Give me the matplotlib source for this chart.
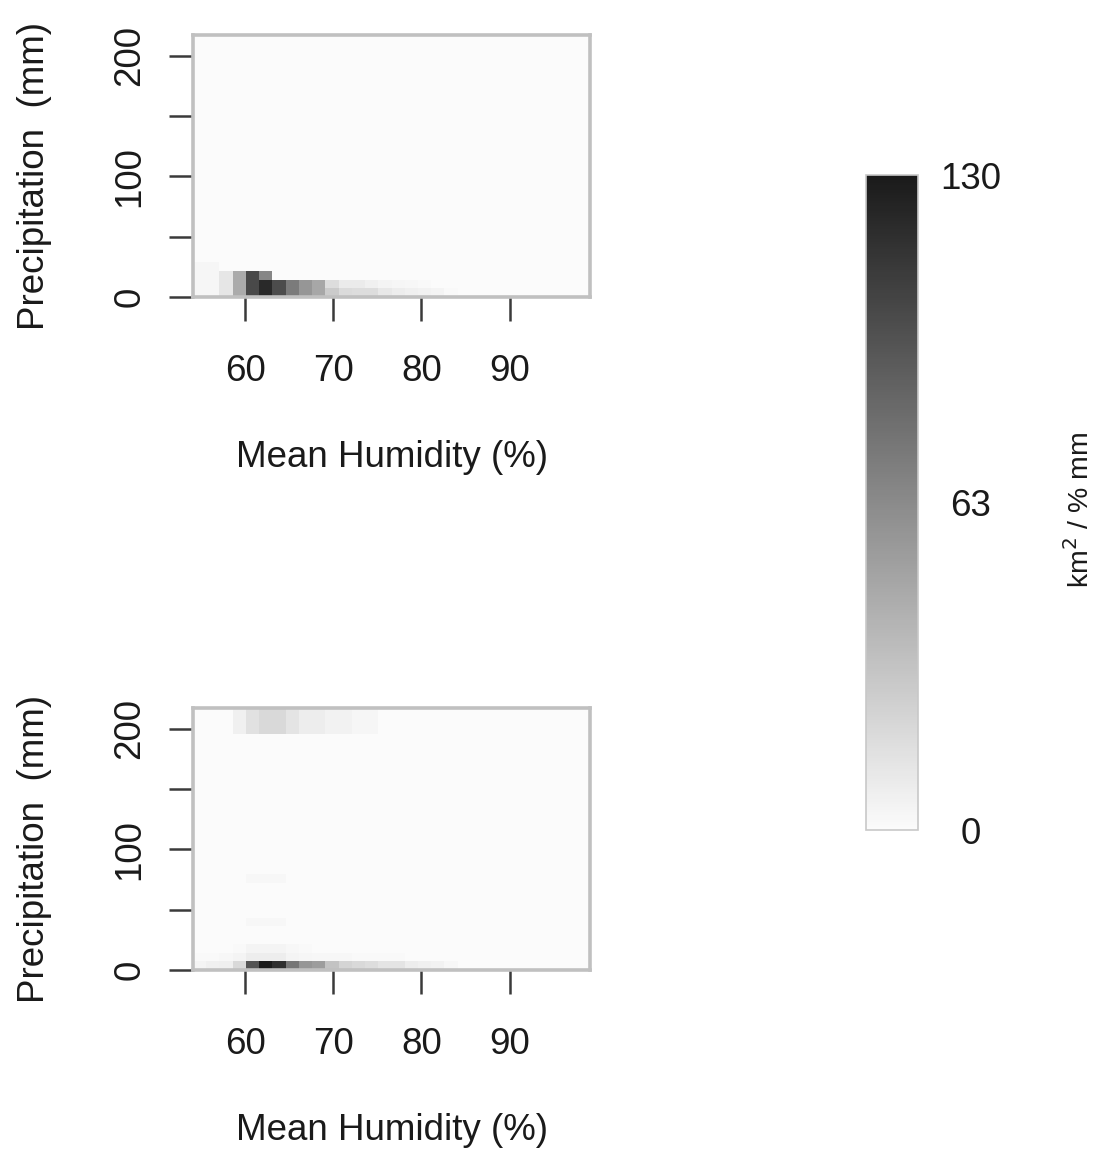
import numpy as np
import matplotlib
matplotlib.use("Agg")
import matplotlib.pyplot as plt
from matplotlib.colors import LinearSegmentedColormap

# ---------- DATA ----------
# 30 x 30 density grid: humidity bins (1.5 %) x precipitation bins (~7.2 mm)
N_HUM = 30
N_PRE = 30
HUM_MIN, HUM_MAX = 54.1, 99.1
PRE_MIN, PRE_MAX = 0.0, 217.0

HUM_TICKS = [60, 70, 80, 90]
PRE_TICKS = [0, 50, 100, 150, 200]
PRE_TICK_LABELS = ["0", "", "100", "", "200"]

VMAX = 126.5
CBAR_LABELS = ["0", "63", "130"]

# top panel, values per humidity bin for the lowest precipitation rows
top_p0 = [3, 3, 12, 45, 100, 118, 98, 72, 57, 47, 27, 18, 17, 17, 11, 8, 6, 5, 4, 1]
top_p1 = [3, 3, 12, 45, 100, 118, 98, 72, 57, 47, 17, 9, 9, 6, 4, 3, 2, 1]
top_p2 = [3, 3, 12, 45, 100, 66]
top_p3 = [3, 3]

# bottom panel
bot_p0 = [4, 6, 7, 19, 94, 126, 115, 75, 57, 53, 32, 22, 19, 17, 13, 13, 8, 6, 5, 2]
bot_p1 = [1, 1, 2, 4, 8, 8, 8, 4, 3, 2, 2, 2, 1, 1, 1, 1]
bot_p2 = [0, 0, 0, 1, 4, 4, 4, 2, 1]
bot_p5 = [0, 0, 0, 0, 2, 2, 2]
bot_p10 = [0, 0, 0, 0, 2, 2, 2]
bot_p27 = [0, 0, 0, 6, 15, 19, 19, 13, 8, 8, 5, 5, 3, 3]
bot_p28 = [0, 0, 0, 6, 15, 19, 19, 13, 8, 8, 5, 5, 3, 3]
bot_p29 = [0, 0, 0, 6, 15, 19, 19, 13, 8, 8, 5, 5, 3, 3]

FONT = 26.5


def fill_grid(rows):
    z = np.zeros((N_PRE, N_HUM))
    for r, vals in rows:
        z[r, :len(vals)] = vals
    return z


def draw_panel(fig, rect, z, cmap):
    ax = fig.add_axes(rect)
    hum_edges = np.linspace(HUM_MIN, HUM_MAX, N_HUM + 1)
    pre_edges = np.linspace(PRE_MIN, PRE_MAX, N_PRE + 1)
    mesh = ax.pcolormesh(hum_edges, pre_edges, z, cmap=cmap, vmin=0, vmax=VMAX,
                         shading="flat")
    ax.set_xlim(HUM_MIN, HUM_MAX)
    ax.set_ylim(PRE_MIN, PRE_MAX)

    ax.set_xticks(HUM_TICKS)
    ax.set_xticklabels([str(t) for t in HUM_TICKS])
    ax.set_yticks(PRE_TICKS)
    ax.set_yticklabels(PRE_TICK_LABELS, rotation=90, va="center")
    ax.tick_params(axis="both", direction="out", length=17, width=1.8,
                   color="#3a3a3a", labelsize=FONT, labelcolor="#1a1a1a")
    ax.tick_params(axis="x", pad=24)
    ax.tick_params(axis="y", pad=16)

    for sp in ax.spines.values():
        sp.set_color("#c0c0c0")
        sp.set_linewidth(2.6)

    ax.set_xlabel("Mean Humidity (%)", fontsize=FONT, color="#1a1a1a", va="center")
    ax.xaxis.set_label_coords(0.5, -0.611)
    ax.set_ylabel("Precipitation  (mm)", fontsize=FONT, color="#1a1a1a", va="center")
    ax.yaxis.set_label_coords(-0.40, 0.46)
    return mesh


cmap = LinearSegmentedColormap.from_list("grey_dens", ["#fbfbfb", "#1a1a1a"])

top_z = fill_grid([(0, top_p0), (1, top_p1), (2, top_p2), (3, top_p3)])
bot_z = fill_grid([(0, bot_p0), (1, bot_p1), (2, bot_p2), (5, bot_p5), (10, bot_p10),
                   (27, bot_p27), (28, bot_p28), (29, bot_p29)])

W, H = 1094, 1152
fig = plt.figure(figsize=(W / 100, H / 100), dpi=100)
plt.rcParams["font.family"] = ["Liberation Sans", "DejaVu Sans"]


def px_rect(left, top, right, bottom):
    return [left / W, 1 - bottom / H, (right - left) / W, (bottom - top) / H]


mesh = draw_panel(fig, px_rect(193, 35, 590, 297), top_z, cmap)
draw_panel(fig, px_rect(193, 708, 590, 970), bot_z, cmap)

# ---------- COLOURBAR ----------
cax = fig.add_axes(px_rect(866, 175, 918, 830))
cb = fig.colorbar(mesh, cax=cax, ticks=[0, VMAX / 2, VMAX])
cb.set_ticklabels(CBAR_LABELS)
cax.tick_params(length=0, labelsize=FONT, pad=38, labelcolor="#1a1a1a")
for lab in cax.get_yticklabels():
    lab.set_horizontalalignment("center")
cb.outline.set_edgecolor("#c8c8c8")
cb.outline.set_linewidth(1.2)
fig.text(1080 / W, 1 - 510 / H, "km$^2$ / % mm", rotation=90, ha="center", va="center",
         fontsize=20.5, color="#1a1a1a")

fig.savefig("out.png", dpi=100)
